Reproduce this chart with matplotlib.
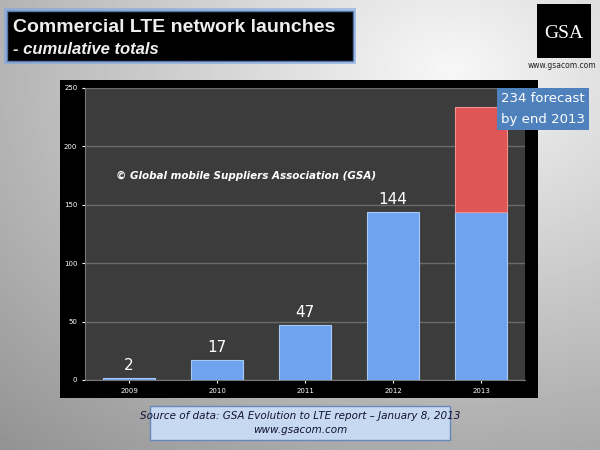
import numpy as np
import matplotlib.pyplot as plt
from matplotlib.patches import Rectangle

years = ["2009", "2010", "2011", "2012", "2013"]
launches = [2, 17, 47, 144, 144]
forecast_extra = [0, 0, 0, 0, 90]
label_values = ["2", "17", "47", "144", ""]

W, H = 600, 450
fig = plt.figure(figsize=(6, 4.5), dpi=100)

# background gradient
bg = fig.add_axes([0, 0, 1, 1])
xx = np.linspace(0, 1, 300)
yy = np.linspace(0, 1, 300)
X, Y = np.meshgrid(xx, yy)
grad = 0.97 - 0.35 * np.sqrt((X - 0.75) ** 2 + (Y - 0.15) ** 2)
bg.imshow(grad, cmap="gray", vmin=0, vmax=1, extent=[0, W, H, 0], aspect="auto")
bg.set_xlim(0, W)
bg.set_ylim(H, 0)
bg.axis("off")

# title box
bg.add_patch(Rectangle((4, 8), 352, 56, facecolor="#7aa6e6", edgecolor="none", alpha=0.6))
bg.add_patch(Rectangle((7, 11), 346, 50, facecolor="black", edgecolor="#5577aa", lw=1))
bg.text(13, 28, "Commercial LTE network launches", color="#eeeeee", fontsize=14,
        fontweight="bold", va="center", family="Liberation Sans")
bg.text(13, 49, "- cumulative totals", color="#eeeeee", fontsize=12,
        fontweight="bold", style="italic", va="center", family="Liberation Sans")

# logo
bg.add_patch(Rectangle((537, 4), 54, 54, facecolor="black"))
bg.text(564, 33, "GSA", color="white", fontsize=14, ha="center", va="center", family="Liberation Serif")
bg.text(562, 66, "www.gsacom.com", color="#222222", fontsize=5.5, ha="center", va="center")

# chart black panel
bg.add_patch(Rectangle((60, 80), 478, 318, facecolor="black"))

# source box
bg.add_patch(Rectangle((150, 406), 300, 34, facecolor="#c6d9f1", edgecolor="#6688bb", lw=1))
bg.text(300, 416, "Source of data: GSA Evolution to LTE report \u2013 January 8, 2013",
        fontsize=7.5, style="italic", ha="center", va="center", color="#111133")
bg.text(300, 430, "www.gsacom.com", fontsize=7.5, style="italic", ha="center", va="center", color="#111133")

ax = fig.add_axes([85 / W, 1 - 380 / H, 440 / W, 292 / H])
ax.set_facecolor("#3c3c3c")
x = np.arange(len(years))
ax.bar(x, launches, width=0.58, color="#6fa3ef", edgecolor="#a9c9f5", lw=0.8, zorder=3)
fx = [xi for xi, f in zip(x, forecast_extra) if f > 0]
fv = [f for f in forecast_extra if f > 0]
fb = [b for b, f in zip(launches, forecast_extra) if f > 0]
ax.bar(fx, fv, bottom=fb, width=0.58, color="#e05555", edgecolor="#f09090", lw=0.8, zorder=3)
for xi, v, t in zip(x, launches, label_values):
    if t:
        ax.text(xi, v + 4, t, color="white", fontsize=11, ha="center", va="bottom")
ax.set_xlim(-0.5, 4.5)
ax.set_ylim(0, 250)
ax.set_yticks(range(0, 251, 50))
ax.set_xticks(x)
ax.set_xticklabels(years)
ax.tick_params(colors="white", labelsize=5, length=2)
ax.grid(axis="y", color="#6a6a6a", lw=1, zorder=0)
for s in ax.spines.values():
    s.set_color("#777777")
ax.spines["top"].set_visible(False)
ax.spines["right"].set_visible(False)
ax.text(0.07, 0.69, "\u00a9 Global mobile Suppliers Association (GSA)", transform=ax.transAxes,
        color="white", fontsize=7.5, fontweight="bold", style="italic")

# forecast box above the chart axes
fig.add_artist(Rectangle((497 / W, 1 - 130 / H), 92 / W, 42 / H, transform=fig.transFigure,
                         facecolor="#4f81bd", zorder=5))
fig.text(543 / W, 1 - 99 / H, "234 forecast", color="white", fontsize=9.5, ha="center", va="center", zorder=6)
fig.text(543 / W, 1 - 119 / H, "by end 2013", color="white", fontsize=9.5, ha="center", va="center", zorder=6)

fig.savefig("out.png", dpi=100)
